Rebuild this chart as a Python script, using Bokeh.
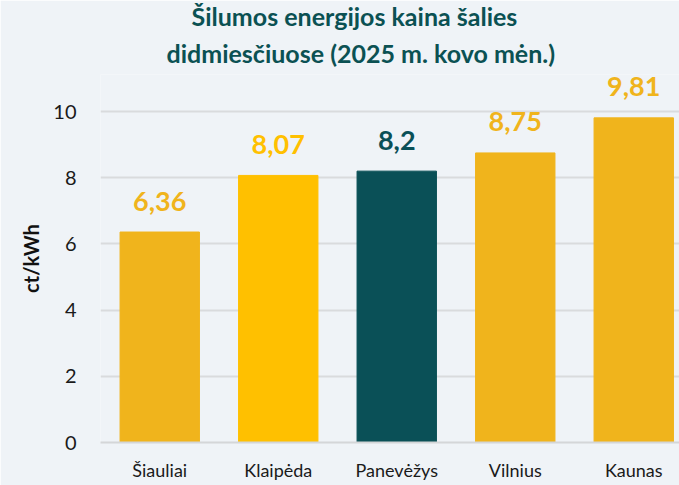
from bokeh.plotting import figure
from bokeh.models import ColumnDataSource, Range1d, FixedTicker, Title
from bokeh.core.properties import value
from bokeh.embed import file_html
from bokeh.resources import INLINE

cities = ["Šiauliai", "Klaipėda", "Panevėžys", "Vilnius", "Kaunas"]
prices = [6.36, 8.07, 8.2, 8.75, 9.81]
bar_colors = ["#f0b41c", "#ffc000", "#0a5057", "#f0b41c", "#f0b41c"]
title_lines = ["Šilumos energijos kaina šalies", "didmiesčiuose (2025 m. kovo mėn.)"]
y_ticks = [0, 2, 4, 6, 8, 10]
y_label = "ct/kWh"

FONT = "Lato"
BG = "#eff3f7"

xs = [i + 0.5 for i in range(len(cities))]
labels = [str(v).replace(".", ",") for v in prices]
src = ColumnDataSource(dict(x=xs, top=prices, color=bar_colors, label=labels))

p = figure(width=679, height=485, output_backend="svg", toolbar_location=None,
           x_range=Range1d(0, 4.886), y_range=Range1d(0, 11.12),
           min_border_left=100, min_border_right=0, min_border_top=0, min_border_bottom=43)
p.background_fill_color = BG
p.border_fill_color = BG
p.outline_line_color = None

p.vbar(x="x", top="top", width=0.67, color="color", source=src)
p.text(x="x", y="top", text="label", source=src, text_color="color",
       text_font=value(FONT), text_font_style="bold", text_font_size="27px",
       text_align="center", text_baseline="alphabetic", y_offset=-31)

# axes
p.xaxis.ticker = FixedTicker(ticks=xs)
p.xaxis.major_label_overrides = {x: c for x, c in zip(xs, cities)}
p.xaxis.major_tick_line_color = None
p.xaxis.major_tick_out = 0
p.xaxis.major_tick_in = 0
p.xaxis.minor_tick_line_color = None
p.xaxis.axis_line_color = "#d4d6d8"
p.xaxis.axis_line_width = 2
p.xaxis.major_label_text_font = FONT
p.xaxis.major_label_text_font_size = "18px"
p.xaxis.major_label_text_color = "#1a1a1a"
p.xaxis.major_label_standoff = 16

p.yaxis.ticker = FixedTicker(ticks=y_ticks)
p.yaxis.major_tick_line_color = None
p.yaxis.major_tick_out = 0
p.yaxis.major_tick_in = 0
p.yaxis.minor_tick_line_color = None
p.yaxis.axis_line_color = None
p.yaxis.major_label_text_font = FONT
p.yaxis.major_label_text_font_size = "20px"
p.yaxis.major_label_text_color = "#1a1a1a"
p.yaxis.major_label_standoff = 24
p.yaxis.axis_label = y_label
p.yaxis.axis_label_text_font = FONT
p.yaxis.axis_label_text_font_style = "bold"
p.yaxis.axis_label_text_font_size = "20px"
p.yaxis.axis_label_text_color = "#111111"
p.yaxis.axis_label_standoff = 7

p.xgrid.grid_line_color = None
p.ygrid.grid_line_color = "#d9dbdd"
p.ygrid.grid_line_width = 2

# line 2 sits next to the frame, line 1 above it; left-aligned with offsets
# so that both lines centre at the same x as in the reference
standoffs = [-4, 14]
offsets = [91, 66]
for line, so, off in reversed(list(zip(title_lines, standoffs, offsets))):
    p.add_layout(Title(text=line, align="left", offset=off, text_font=FONT,
                       text_font_style="bold", text_font_size="25px",
                       text_color="#0b5153", standoff=so), "above")

open("out.html", "w").write(file_html(p, INLINE))
